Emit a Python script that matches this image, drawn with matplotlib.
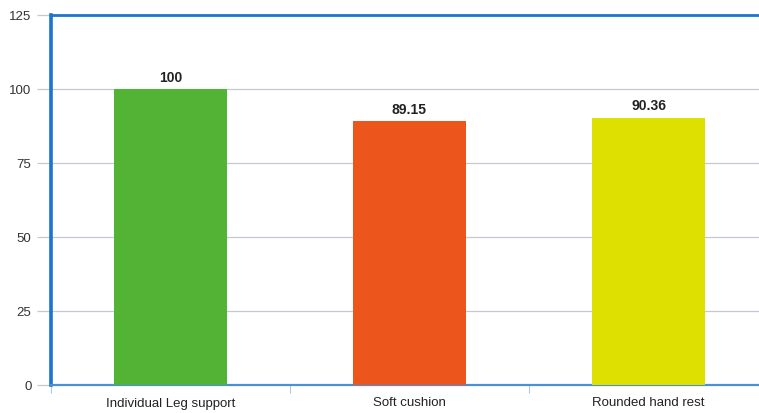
import matplotlib
matplotlib.use("Agg")
import matplotlib.pyplot as plt

categories = ["Individual Leg support", "Soft cushion", "Rounded hand rest"]
values = [100, 89.15, 90.36]
value_labels = ["100", "89.15", "90.36"]
bar_colors = ["#52b335", "#ec561c", "#dde000"]
y_ticks = [0, 25, 50, 75, 100, 125]

plt.rcParams["font.family"] = ["Liberation Sans", "DejaVu Sans"]

fig = plt.figure(figsize=(7.59, 4.13), dpi=100)
ax = fig.add_axes([51 / 759, 28 / 413, 717 / 759, 370 / 413])

x = range(len(categories))
ax.bar(x, values, width=0.475, color=bar_colors, zorder=3)
for xi, v, lab in zip(x, values, value_labels):
    ax.text(xi, v + 1.4, lab, ha="center", va="bottom", fontsize=10,
            fontweight="bold", color="#222222", zorder=4)

ax.set_xlim(-0.5, len(categories) - 0.5)
ax.set_ylim(0, 125)
ax.set_yticks(y_ticks)
ax.set_yticklabels([str(t) for t in y_ticks], fontsize=9.5, color="#333333")
ax.yaxis.grid(True, color="#c4c9d0", linewidth=0.9, zorder=0)
ax.tick_params(axis="y", length=10, width=0.9, color="#c4c9d0", pad=4)

# category labels at centres, boundary tick marks between bands
ax.set_xticks(list(x))
ax.set_xticklabels(categories, fontsize=9.5, color="#222222")
ax.tick_params(axis="x", length=0, pad=9)
ax.set_xticks([-0.5, 0.5, 1.5, 2.5], minor=True)
ax.tick_params(axis="x", which="minor", length=6, width=0.8, color="#a9c9ea")

ax.spines["right"].set_visible(False)
ax.spines["left"].set_color("#1a75cf")
ax.spines["left"].set_linewidth(2.6)
ax.spines["top"].set_color("#1a75cf")
ax.spines["top"].set_linewidth(2.0)
ax.spines["bottom"].set_color("#4a90d9")
ax.spines["bottom"].set_linewidth(1.6)
ax.set_axisbelow(True)

fig.savefig("out.png", dpi=100)
